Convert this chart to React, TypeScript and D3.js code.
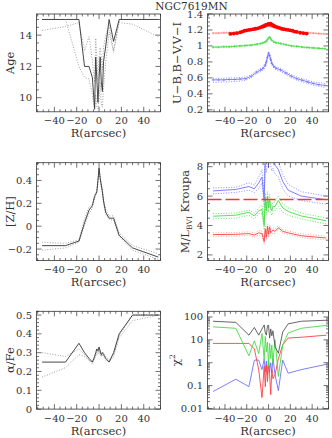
import React, { useEffect, useRef } from 'react';
import * as d3 from 'd3';

// radii of the population fits (arcsec), shared by Age, [Z/H], alpha/Fe, M/L and chi2
const radius = [-51, -30, -18, -13, -9, -6, -4, -3, -2, -1, 0, 1, 2, 3, 4, 6, 9, 13, 18, 30, 53];

const ageBest = [15, 15, 15, 12.0, 12.0, 11.3, 9.3, 12.6, 11.2, 9.7, 11.2, 12.6, 11.0, 10.4, 12.3, 13.3, 15.0, 13.6, 15, 15, 15];
const ageUp = [14.3, 14.55, 14.8, 13.0, 13.9, 12.4, 11.0, 13.8, 12.5, 11.1, 12.6, 13.2, 12.6, 11.8, 13.2, 14.0, 14.6, 13.0, 14.8, 14.7, 13.9];
const ageLow = [15, 15, 12.0, 11.3, 11.2, 10.2, 9.2, 10.2, 9.4, 9.3, 9.8, 11.0, 9.6, 9.4, 10.6, 12.3, 14.2, 12.9, 15, 15, 15];

const zhBest = [-0.17, -0.17, -0.13, 0.03, 0.14, 0.18, 0.26, 0.28, 0.30, 0.40, 0.51, 0.42, 0.36, 0.30, 0.22, 0.12, 0.07, 0.07, -0.08, -0.19, -0.27];
const zhUp = [-0.14, -0.15, -0.12, 0.06, 0.17, 0.19, 0.27, 0.29, 0.31, 0.41, 0.50, 0.43, 0.37, 0.32, 0.24, 0.14, 0.09, 0.09, -0.06, -0.17, -0.24];
const zhLow = [-0.21, -0.19, -0.14, 0.01, 0.11, 0.16, 0.24, 0.27, 0.29, 0.38, 0.49, 0.40, 0.34, 0.29, 0.20, 0.10, 0.06, 0.05, -0.09, -0.21, -0.29];

const afeBest = [0.25, 0.25, 0.35, 0.30, 0.27, 0.25, 0.28, 0.30, 0.32, 0.31, 0.33, 0.31, 0.29, 0.30, 0.29, 0.27, 0.25, 0.30, 0.40, 0.50, 0.50];
const afeUp = [0.30, 0.28, 0.32, 0.29, 0.26, 0.25, 0.27, 0.29, 0.31, 0.30, 0.32, 0.30, 0.28, 0.30, 0.30, 0.28, 0.26, 0.29, 0.39, 0.50, 0.50];
const afeLow = [0.17, 0.22, 0.29, 0.28, 0.26, 0.24, 0.27, 0.28, 0.30, 0.29, 0.31, 0.29, 0.28, 0.29, 0.28, 0.26, 0.25, 0.28, 0.38, 0.47, 0.50];

const mlBlue = [6.35, 6.45, 6.65, 6.5, 6.9, 7.3, 5.7, 9.0, 8.2, 9.5, 8.6, 9.6, 8.9, 8.4, 8.7, 8.1, 7.8, 7.0, 6.4, 6.0, 5.75];
const mlBlueUp = [6.55, 6.6, 6.9, 6.75, 7.3, 7.8, 6.2, 9.5, 8.8, 10, 9.2, 10, 9.4, 8.9, 9.2, 8.6, 8.3, 7.5, 6.8, 6.3, 6.0];
const mlBlueLow = [6.15, 6.25, 6.4, 6.25, 6.5, 6.9, 5.3, 8.2, 7.6, 8.6, 7.9, 8.8, 8.1, 7.7, 7.9, 7.5, 7.3, 6.5, 6.0, 5.7, 5.45];
const mlGreen = [4.63, 4.7, 4.9, 4.65, 5.0, 5.1, 4.0, 5.9, 5.0, 6.0, 5.2, 5.8, 5.2, 5.0, 5.3, 5.3, 5.7, 5.2, 4.95, 4.65, 4.32];
const mlGreenUp = [4.8, 4.85, 5.05, 4.85, 5.2, 5.4, 4.4, 6.2, 5.3, 6.3, 5.5, 6.1, 5.5, 5.3, 5.6, 5.6, 6.0, 5.5, 5.2, 4.85, 4.5];
const mlGreenLow = [4.45, 4.5, 4.7, 4.45, 4.8, 4.8, 3.7, 5.5, 4.7, 5.6, 4.9, 5.5, 4.9, 4.7, 5.0, 5.0, 5.3, 4.9, 4.7, 4.45, 4.1];
const mlRed = [3.38, 3.4, 3.45, 3.35, 3.5, 3.45, 2.9, 3.75, 3.2, 3.95, 3.4, 3.9, 3.5, 3.6, 3.7, 3.6, 3.85, 3.6, 3.5, 3.3, 3.15];
const mlRedUp = [3.5, 3.52, 3.58, 3.48, 3.65, 3.62, 3.1, 3.95, 3.4, 4.1, 3.6, 4.05, 3.7, 3.8, 3.85, 3.75, 4.0, 3.72, 3.62, 3.42, 3.28];
const mlRedLow = [3.26, 3.28, 3.32, 3.22, 3.35, 3.28, 2.7, 3.55, 3.0, 3.75, 3.2, 3.7, 3.3, 3.4, 3.5, 3.45, 3.7, 3.48, 3.38, 3.18, 3.02];
const mlKroupa = 5.77;

const chiTotal = [65, 58, 16, 35, 16, 30, 45, 20, 16, 40, 45, 12, 30, 15, 25, 5, 2.6, 22, 50, 65, 72];
const chiGreen = [37, 32, 2.0, 9, 2.5, 19, 1.3, 14, 3, 8, 0.7, 7, 1.5, 6, 1.0, 10, 0.25, 6, 20, 32, 43];
const chiRed = [7, 7, 7, 4, 0.5, 0.03, 0.7, 0.09, 0.8, 0.15, 1.0, 0.3, 0.04, 0.5, 0.2, 0.3, 1.5, 6, 12, 13, 16];
const chiBlue = [0.055, 0.19, 0.09, 1.3, 1.3, 0.5, 1.4, 0.4, 1.2, 0.3, 1.3, 0.4, 1.0, 0.35, 1.6, 0.3, 0.06, 1.3, 0.35, 0.5, 0.85];

// photometric colour profiles
const rPhot = [-51, -46, -41, -36, -31, -26, -21, -16, -11, -7, -5, -3, -2, -1, 0, 1, 2, 3, 5, 7, 11, 16, 21, 26, 31, 36, 41, 46, 52];
const viModel = [1.16, 1.16, 1.165, 1.165, 1.17, 1.18, 1.19, 1.2, 1.215, 1.225, 1.23, 1.24, 1.245, 1.25, 1.25, 1.25, 1.245, 1.24, 1.23, 1.22, 1.21, 1.2, 1.19, 1.18, 1.17, 1.165, 1.16, 1.155, 1.15];
const viUp = [1.168, 1.168, 1.173, 1.173, 1.178, 1.188, 1.198, 1.208, 1.223, 1.233, 1.238, 1.248, 1.253, 1.258, 1.258, 1.258, 1.253, 1.248, 1.238, 1.228, 1.218, 1.208, 1.198, 1.188, 1.178, 1.173, 1.168, 1.163, 1.158];
const viLow = [1.152, 1.152, 1.157, 1.157, 1.162, 1.172, 1.182, 1.192, 1.207, 1.217, 1.222, 1.232, 1.237, 1.242, 1.242, 1.242, 1.237, 1.232, 1.222, 1.212, 1.202, 1.192, 1.182, 1.172, 1.162, 1.157, 1.152, 1.147, 1.142];
const bvModel = [0.985, 0.985, 0.99, 0.99, 0.995, 1.0, 1.005, 1.01, 1.02, 1.03, 1.04, 1.05, 1.06, 1.08, 1.10, 1.11, 1.09, 1.07, 1.05, 1.04, 1.03, 1.015, 1.0, 0.995, 0.985, 0.98, 0.975, 0.97, 0.965];
const bvUp = [0.993, 0.993, 0.998, 0.998, 1.003, 1.008, 1.013, 1.018, 1.028, 1.038, 1.048, 1.058, 1.068, 1.088, 1.108, 1.118, 1.098, 1.078, 1.058, 1.048, 1.038, 1.023, 1.008, 1.003, 0.993, 0.988, 0.983, 0.978, 0.973];
const bvLow = [0.977, 0.977, 0.982, 0.982, 0.987, 0.992, 0.997, 1.002, 1.012, 1.022, 1.032, 1.042, 1.052, 1.072, 1.092, 1.102, 1.082, 1.062, 1.042, 1.032, 1.022, 1.007, 0.992, 0.987, 0.977, 0.972, 0.967, 0.962, 0.957];
const ubModel = [0.575, 0.575, 0.575, 0.58, 0.58, 0.585, 0.59, 0.62, 0.67, 0.70, 0.72, 0.76, 0.80, 0.86, 0.91, 0.88, 0.83, 0.78, 0.74, 0.72, 0.70, 0.66, 0.62, 0.59, 0.57, 0.55, 0.53, 0.515, 0.505];
const ubUp = [0.595, 0.595, 0.595, 0.6, 0.6, 0.605, 0.61, 0.64, 0.69, 0.72, 0.74, 0.79, 0.83, 0.88, 0.93, 0.90, 0.86, 0.80, 0.76, 0.74, 0.72, 0.68, 0.64, 0.61, 0.59, 0.57, 0.55, 0.54, 0.53];
const ubLow = [0.545, 0.545, 0.55, 0.55, 0.555, 0.56, 0.57, 0.6, 0.65, 0.68, 0.70, 0.73, 0.77, 0.84, 0.89, 0.86, 0.80, 0.76, 0.72, 0.70, 0.68, 0.64, 0.60, 0.57, 0.55, 0.53, 0.51, 0.495, 0.48];

// observed V-I (filled red dots)
const rObs = [-35, -32, -29, -26, -24, -22, -20, -18, -16, -14, -12, -10, -8, -6, -5, -4, -3, -2, -1, 0, 1, 2, 3, 4, 5, 6, 8, 10, 12, 14, 16, 18, 20, 22, 24, 26, 29, 32, 35];
const viObs = [1.15, 1.155, 1.16, 1.17, 1.18, 1.19, 1.195, 1.2, 1.205, 1.21, 1.215, 1.22, 1.23, 1.24, 1.245, 1.25, 1.26, 1.265, 1.27, 1.275, 1.27, 1.28, 1.265, 1.26, 1.25, 1.245, 1.235, 1.225, 1.215, 1.21, 1.205, 1.2, 1.195, 1.19, 1.18, 1.175, 1.165, 1.16, 1.155];

const xTicks = [-40, -20, 0, 20, 40];
const title = 'NGC7619MN';

const INK = '#333';
const DOT = '1 1.6';

type Series = { x: number[]; y: number[]; color: string; dash?: string; width?: number; marker?: 'plus' | 'dot' };
type Panel = {
  col: number; row: number; log?: boolean; yDomain: [number, number];
  major: number; minor: number; label: string; series: Series[]; hline?: number;
};

const blk = '#333', gry = '#888', red = '#ff4040', pink = '#ff9090', grn = '#44dd44', blu = '#7070ff';

const panels: Panel[] = [
  {
    col: 0, row: 0, yDomain: [9.1, 15.35], major: 2, minor: 0.5, label: 'Age',
    series: [
      { x: radius, y: ageUp, color: gry, dash: DOT },
      { x: radius, y: ageLow, color: gry, dash: DOT },
      { x: radius, y: ageBest, color: blk },
    ],
  },
  {
    col: 1, row: 0, yDomain: [0.175, 1.4], major: 0.2, minor: 0.05, label: 'U−B,B−V,V−I',
    series: [
      { x: rPhot, y: viUp, color: pink, dash: DOT },
      { x: rPhot, y: viLow, color: pink, dash: DOT },
      { x: rPhot, y: viModel, color: pink, marker: 'plus' },
      { x: rObs, y: viObs, color: '#ff0000', marker: 'dot', width: 0 },
      { x: rPhot, y: bvUp, color: grn, dash: DOT },
      { x: rPhot, y: bvLow, color: grn, dash: DOT },
      { x: rPhot, y: bvModel, color: grn, marker: 'plus' },
      { x: rPhot, y: ubUp, color: blu, dash: DOT },
      { x: rPhot, y: ubLow, color: blu, dash: DOT },
      { x: rPhot, y: ubModel, color: blu, marker: 'plus' },
    ],
  },
  {
    col: 0, row: 1, yDomain: [-0.3, 0.555], major: 0.2, minor: 0.05, label: '[Z/H]',
    series: [
      { x: radius, y: zhUp, color: gry, dash: DOT },
      { x: radius, y: zhLow, color: gry, dash: DOT },
      { x: radius, y: zhBest, color: blk },
    ],
  },
  {
    col: 1, row: 1, yDomain: [1.62, 8.27], major: 2, minor: 0.5, label: 'ML', hline: mlKroupa,
    series: [
      { x: radius, y: mlBlueUp, color: blu, dash: DOT },
      { x: radius, y: mlBlueLow, color: blu, dash: DOT },
      { x: radius, y: mlBlue, color: blu },
      { x: radius, y: mlGreenUp, color: grn, dash: DOT },
      { x: radius, y: mlGreenLow, color: grn, dash: DOT },
      { x: radius, y: mlGreen, color: grn },
      { x: radius, y: mlRedUp, color: pink, dash: DOT },
      { x: radius, y: mlRedLow, color: pink, dash: DOT },
      { x: radius, y: mlRed, color: red },
    ],
  },
  {
    col: 0, row: 2, yDomain: [0, 0.52], major: 0.1, minor: 0.02, label: 'α/Fe',
    series: [
      { x: radius, y: afeUp, color: gry, dash: DOT },
      { x: radius, y: afeLow, color: gry, dash: DOT },
      { x: radius, y: afeBest, color: blk },
    ],
  },
  {
    col: 1, row: 2, log: true, yDomain: [0.0094, 177], major: 10, minor: 1, label: 'chi',
    series: [
      { x: radius, y: chiBlue, color: blu },
      { x: radius, y: chiRed, color: red },
      { x: radius, y: chiGreen, color: grn },
      { x: radius, y: chiTotal, color: '#555' },
    ],
  },
];

const cols = [[36.5, 160.5], [207.5, 328.5]];
const rowTop = [14, 162.7, 311.3];
const rowH = 97.8;
const labelX = [[13.5], [180.5, 188.5, 179.5]];

const stepRange = (d0: number, d1: number, step: number) => {
  const out: number[] = [];
  for (let k = Math.ceil(d0 / step - 1e-9); k * step <= d1 + 1e-9; k++) out.push(+(k * step).toFixed(6));
  return out;
};

const App = () => {
  const ref = useRef<SVGSVGElement>(null);

  useEffect(() => {
    const svg = d3.select(ref.current);
    svg.selectAll('*').remove();

    svg.append('text')
      .attr('x', 191.5).attr('y', 9.8)
      .attr('text-anchor', 'middle')
      .attr('font-size', 10.5).attr('fill', INK)
      .text(title);

    panels.forEach((p, i) => {
      const [x0, x1] = cols[p.col];
      const top = rowTop[p.row];
      const bottom = top + rowH;
      const x = d3.scaleLinear().domain([-56, 55]).range([x0, x1]);
      const y = (p.log ? d3.scaleLog() : d3.scaleLinear()).domain(p.yDomain).range([bottom, top]);
      const g = svg.append('g');

      const clipId = `clip${i}`;
      g.append('clipPath').attr('id', clipId)
        .append('rect').attr('x', x0).attr('y', top).attr('width', x1 - x0).attr('height', rowH);
      const plot = g.append('g').attr('clip-path', `url(#${clipId})`);

      p.series.forEach(s => {
        const pts = s.x.map((r, j) => [r, s.y[j]] as [number, number]);
        if (s.width !== 0) {
          const line = d3.line<[number, number]>().x(d => x(d[0])).y(d => y(d[1]));
          plot.append('path')
            .attr('d', line(pts))
            .attr('fill', 'none')
            .attr('stroke', s.color)
            .attr('stroke-width', s.dash ? 0.8 : 0.9)
            .attr('stroke-dasharray', s.dash || null);
        }
        if (s.marker === 'plus') {
          plot.selectAll(null).data(pts).enter().append('path')
            .attr('d', d => `M${x(d[0]) - 1.2},${y(d[1])}h2.4M${x(d[0])},${y(d[1]) - 1.2}v2.4`)
            .attr('stroke', s.color).attr('stroke-width', 0.6);
        }
        if (s.marker === 'dot') {
          plot.selectAll(null).data(pts).enter().append('circle')
            .attr('cx', d => x(d[0])).attr('cy', d => y(d[1]))
            .attr('r', 1.9).attr('fill', s.color);
        }
      });

      if (p.hline !== undefined) {
        plot.append('line')
          .attr('x1', x0).attr('x2', x1)
          .attr('y1', y(p.hline)).attr('y2', y(p.hline))
          .attr('stroke', '#ff3030').attr('stroke-width', 1.5)
          .attr('stroke-dasharray', '14 4');
      }

      // frame
      g.append('rect')
        .attr('x', x0).attr('y', top).attr('width', x1 - x0).attr('height', rowH)
        .attr('fill', 'none').attr('stroke', INK).attr('stroke-width', 0.8);

      const ticks = g.append('g').attr('stroke', INK).attr('stroke-width', 0.7);
      // x ticks, inward on bottom and top
      stepRange(-55, 55, 5).forEach(v => {
        const len = v % 20 === 0 ? 5 : 2.5;
        const px = x(v);
        ticks.append('line').attr('x1', px).attr('x2', px).attr('y1', bottom).attr('y2', bottom - len);
        ticks.append('line').attr('x1', px).attr('x2', px).attr('y1', top).attr('y2', top + len);
      });

      // y ticks
      let majors: number[];
      let minors: number[];
      if (p.log) {
        majors = [0.01, 0.1, 1, 10, 100];
        minors = [];
        [0.01, 0.1, 1, 10, 100].forEach(dec => {
          for (let k = 2; k <= 9; k++) if (dec * k <= p.yDomain[1]) minors.push(dec * k);
        });
      } else {
        majors = stepRange(p.yDomain[0], p.yDomain[1], p.major);
        minors = stepRange(p.yDomain[0], p.yDomain[1], p.minor)
          .filter(v => !majors.some(m => Math.abs(m - v) < 1e-6));
      }
      [...majors.map(v => [v, 5]), ...minors.map(v => [v, 2.5])].forEach(([v, len]) => {
        const py = y(v);
        ticks.append('line').attr('x1', x0).attr('x2', x0 + len).attr('y1', py).attr('y2', py);
        ticks.append('line').attr('x1', x1).attr('x2', x1 - len).attr('y1', py).attr('y2', py);
      });

      const fmt = d3.format('~g');
      g.append('g').selectAll('text').data(majors).enter().append('text')
        .attr('x', x0 - 4.5).attr('y', d => y(d))
        .attr('dy', '0.35em')
        .attr('text-anchor', 'end')
        .attr('font-size', 10).attr('fill', INK)
        .text(d => fmt(d));

      g.append('g').selectAll('text').data(xTicks).enter().append('text')
        .attr('x', d => x(d)).attr('y', bottom + 12.5)
        .attr('text-anchor', 'middle')
        .attr('font-size', 10).attr('fill', INK)
        .text(d => fmt(d));

      g.append('text')
        .attr('x', (x0 + x1) / 2).attr('y', bottom + 25.5)
        .attr('text-anchor', 'middle')
        .attr('font-size', 11.5).attr('fill', INK)
        .text('R(arcsec)');

      const lx = labelX[p.col][p.col === 0 ? 0 : p.row];
      const yl = g.append('text')
        .attr('transform', `translate(${lx},${top + rowH / 2}) rotate(-90)`)
        .attr('text-anchor', 'middle')
        .attr('font-size', 11.5).attr('fill', INK);
      if (p.label === 'ML') {
        yl.append('tspan').text('M/L');
        yl.append('tspan').attr('dy', 3).attr('font-size', 7.5).text('BVI');
        yl.append('tspan').attr('dy', -3).text(' Kroupa');
      } else if (p.label === 'chi') {
        yl.append('tspan').text('χ');
        yl.append('tspan').attr('dy', -5).attr('font-size', 7.5).text('2');
      } else {
        yl.text(p.label);
      }
    });
  }, []);

  return (
    <svg ref={ref} width={332} height={438}
      style={{ position: 'absolute', left: 0, top: 0, fontFamily: '"DejaVu Serif", serif', background: '#fff' }} />
  );
};

export default App;
